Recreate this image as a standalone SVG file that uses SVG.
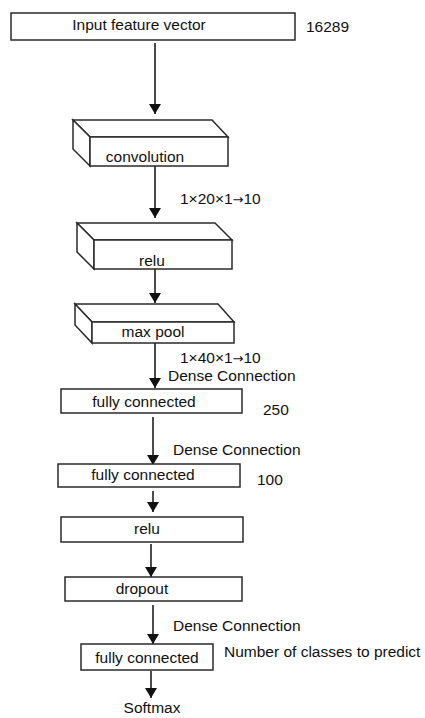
<svg xmlns="http://www.w3.org/2000/svg" width="425" height="718" viewBox="0 0 425 718">
  <style>
    .box { fill: #ffffff; stroke: #2a2a2a; stroke-width: 1.5; stroke-linejoin: miter; }
    .side { fill: #ffffff; stroke: #2a2a2a; stroke-width: 1.5; stroke-linejoin: miter; }
    .lbl { font-family: "Liberation Sans", Arial, Helvetica, sans-serif; font-size: 15.5px; fill: #111; }
    .arr { font-family: "DejaVu Sans", sans-serif; font-size: 13px; }
    .mid { text-anchor: middle; }
    .edge { stroke: #111; stroke-width: 1.5; fill: none; marker-end: url(#head); }
  </style>
  <defs>
    <marker id="head" viewBox="0 0 10 12" refX="10" refY="6" markerWidth="10" markerHeight="12" markerUnits="userSpaceOnUse" orient="auto">
      <path d="M0,0 L10,6 L0,12 Z" fill="#111"/>
    </marker>
  </defs>
  <rect width="425" height="718" fill="#ffffff"/>

  <!-- connectors -->
  <g id="connectors">
    <line class="edge" x1="155" y1="43" x2="155" y2="114"/>
    <line class="edge" x1="155" y1="166" x2="155" y2="218"/>
    <line class="edge" x1="155" y1="269" x2="155" y2="303"/>
    <line class="edge" x1="155" y1="343" x2="155" y2="388"/>
    <line class="edge" x1="153" y1="417" x2="153" y2="465"/>
    <line class="edge" x1="153" y1="491" x2="153" y2="512"/>
    <line class="edge" x1="151" y1="544" x2="151" y2="577"/>
    <line class="edge" x1="153" y1="605" x2="153" y2="644"/>
    <line class="edge" x1="151" y1="671" x2="151" y2="698"/>
    <text class="lbl" x="180" y="204">1×20×1<tspan class="arr">→</tspan>10</text>
    <text class="lbl" x="180" y="363">1×40×1<tspan class="arr">→</tspan>10</text>
    <text class="lbl" x="168" y="381">Dense Connection</text>
    <text class="lbl" x="173" y="455">Dense Connection</text>
    <text class="lbl" x="173" y="631">Dense Connection</text>
  </g>

  <!-- input -->
  <g id="input">
    <rect class="box" x="11" y="13" width="284" height="27"/>
    <text class="lbl mid" x="139" y="30">Input feature vector</text>
    <text class="lbl" x="306" y="32">16289</text>
  </g>

  <!-- convolution block -->
  <g id="convolution">
    <path class="side" d="M73,120 L212,120 L228,137 L90,137 Z"/>
    <path class="side" d="M73,120 L90,137 L90,166 L73,149 Z"/>
    <rect class="box" x="90" y="137" width="138" height="29"/>
    <text class="lbl mid" x="145" y="162">convolution</text>
  </g>

  <!-- relu block -->
  <g id="relu1">
    <path class="side" d="M77,223 L215,223 L232,240 L94,240 Z"/>
    <path class="side" d="M77,223 L94,240 L94,269 L77,252 Z"/>
    <rect class="box" x="94" y="240" width="138" height="29"/>
    <text class="lbl mid" x="152" y="266">relu</text>
  </g>

  <!-- max pool block -->
  <g id="maxpool">
    <path class="side" d="M75,304 L218,304 L234,322 L92,322 Z"/>
    <path class="side" d="M75,304 L92,322 L92,343 L75,325 Z"/>
    <rect class="box" x="92" y="322" width="142" height="21"/>
    <text class="lbl mid" x="153" y="337">max pool</text>
  </g>

  <!-- fully connected 250 -->
  <g id="fc1">
    <rect class="box" x="61" y="389" width="181" height="24"/>
    <text class="lbl mid" x="144" y="407">fully connected</text>
    <text class="lbl" x="263" y="415">250</text>
  </g>

  <!-- fully connected 100 -->
  <g id="fc2">
    <rect class="box" x="58" y="464" width="182" height="23"/>
    <text class="lbl mid" x="143" y="480">fully connected</text>
    <text class="lbl" x="257" y="485">100</text>
  </g>

  <!-- relu -->
  <g id="relu2">
    <rect class="box" x="61" y="517" width="182" height="25"/>
    <text class="lbl mid" x="147" y="534">relu</text>
  </g>

  <!-- dropout -->
  <g id="dropout">
    <rect class="box" x="65" y="577" width="177" height="24"/>
    <text class="lbl mid" x="142" y="594">dropout</text>
  </g>

  <!-- output layer -->
  <g id="fc3">
    <rect class="box" x="81" y="644" width="132" height="26"/>
    <text class="lbl mid" x="147" y="663">fully connected</text>
    <text class="lbl" x="224" y="657">Number of classes to predict</text>
  </g>

  <g id="softmax">
    <text class="lbl mid" x="152" y="713">Softmax</text>
  </g>
</svg>
